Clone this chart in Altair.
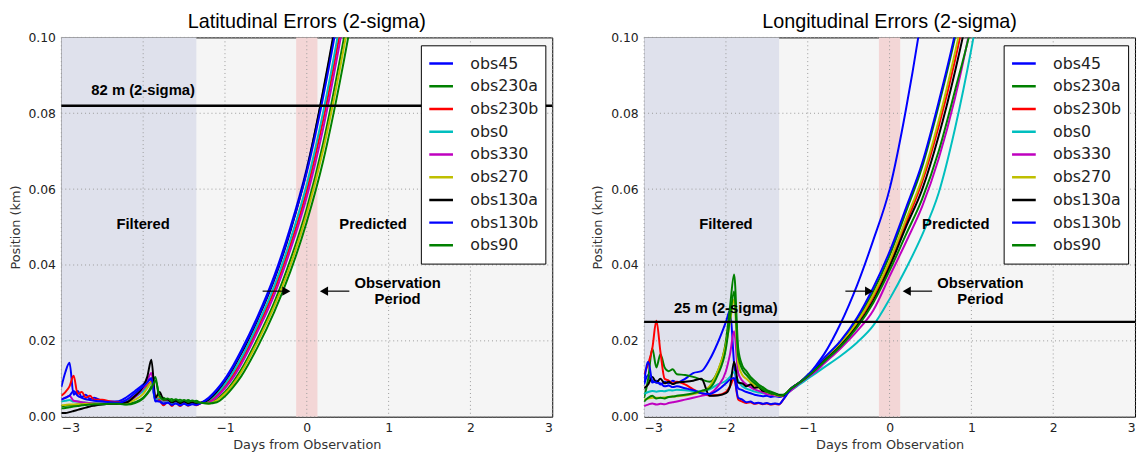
import altair as alt
import pandas as pd

SERIES = ["obs45", "obs230a", "obs230b", "obs0", "obs330", "obs270", "obs130a", "obs130b", "obs90"]
COLORS = ["#0000ff", "#008000", "#ff0000", "#00bfbf", "#bf00bf", "#bfbf00", "#000000", "#0000ff", "#008000"]

X_TICKS = [-3, -2, -1, 0, 1, 2, 3]
Y_TICKS = [0.0, 0.02, 0.04, 0.06, 0.08, 0.10]

X_FILT = [-3.0, -2.95, -2.9, -2.85, -2.8, -2.75, -2.7, -2.65, -2.6, -2.5, -2.4, -2.3, -2.2, -2.1,
          -2.0, -1.95, -1.9, -1.85, -1.8, -1.75, -1.7, -1.65, -1.6, -1.55, -1.5, -1.45, -1.4, -1.35, -1.3]
X_PRED = [-1.2, -1.1, -1.0, -0.9, -0.8, -0.6, -0.4, -0.2, 0.0, 0.2, 0.4, 0.6, 0.8, 1.0, 1.2]

# ---- Latitudinal errors (km) ----
LAT_OBS45 = [.0078, .0118, .0142, .0058, .0068, .0052, .0058, .0047, .0050, .0042, .0040, .0041, .0052, .0068, .0085, .0095, .0098, .0040, .0042, .0035, .0038, .0032, .0036, .0031, .0035, .0031, .0034, .0032, .0036,
             .005, .0072, .010, .0135, .0175, .0265, .037, .050, .0655, .0855, .109, .136, .166, .20, .24]
LAT_OBS230A = [.0028, .0029, .0030, .0031, .0032, .0033, .0033, .0034, .0034, .0034, .0034, .0034, .0033, .0038, .0050, .0062, .0080, .0105, .0048, .0050, .0042, .0047, .0040, .0045, .0039, .0044, .0038, .0042, .0037,
               .0035, .0046, .0065, .0092, .0125, .0207, .030, .0414, .0549, .0721, .0936, .118, .1465, .178, .214]
LAT_OBS230B = [.0055, .0065, .0080, .0108, .0060, .0065, .0050, .0055, .0045, .0045, .0040, .0038, .0042, .0055, .0072, .0082, .0092, .0048, .0043, .0030, .0040, .0028, .0038, .0028, .0036, .0029, .0036, .0030, .0035,
               .0040, .0057, .0080, .0110, .0147, .0234, .0332, .0453, .0596, .0782, .1006, .1262, .1555, .188, .225]
LAT_OBS0 = [.0040, .0042, .0044, .0040, .0040, .0038, .0037, .0036, .0036, .0035, .0035, .0036, .0040, .0052, .0068, .0078, .0088, .0045, .0050, .0040, .0042, .0036, .0040, .0035, .0038, .0034, .0037, .0034, .0036,
            .0043, .0061, .0086, .0118, .0155, .0243, .0343, .0467, .0613, .0803, .103, .129, .158, .19, .228]
LAT_OBS330 = [.0045, .0050, .0055, .0042, .0040, .0038, .0037, .0036, .0035, .0034, .0034, .0035, .0038, .0052, .0075, .0095, .0115, .0050, .0052, .0042, .0044, .0038, .0042, .0036, .0040, .0035, .0039, .0035, .0037,
              .0037, .0052, .0075, .0103, .0139, .0225, .032, .044, .058, .076, .0982, .1234, .1525, .185, .222]
LAT_OBS270 = [.0030, .0031, .0032, .0032, .0033, .0033, .0034, .0034, .0034, .0034, .0034, .0034, .0036, .0045, .0060, .0075, .0090, .0055, .0052, .0044, .0046, .0040, .0044, .0038, .0042, .0037, .0041, .0036, .0037,
              .0035, .0043, .0061, .0086, .0118, .0198, .029, .040, .0535, .0703, .0912, .1155, .1435, .175, .21]
LAT_OBS130A = [.0010, .0010, .0012, .0015, .0018, .0021, .0024, .0027, .0029, .0032, .0034, .0035, .0038, .0055, .0080, .0105, .0150, .0050, .0065, .0045, .0045, .0038, .0042, .0036, .0040, .0035, .0038, .0034, .0036,
               .0045, .0066, .0094, .0128, .0167, .0257, .036, .049, .065, .086, .110, .138, .168, .20, .24]
LAT_OBS130B = [.0045, .0050, .0055, .0068, .0055, .0050, .0046, .0044, .0042, .0040, .0038, .0037, .0045, .0062, .0080, .0090, .0102, .0042, .0040, .0034, .0037, .0031, .0035, .0030, .0034, .0030, .0033, .0031, .0035,
               .0048, .0070, .0097, .0131, .0171, .0260, .0363, .0493, .0645, .0843, .1077, .1346, .1645, .198, .236]
LAT_OBS90 = [.0022, .0023, .0025, .0027, .0028, .0030, .0031, .0032, .0033, .0033, .0034, .0034, .0032, .0036, .0048, .0060, .0075, .0095, .0055, .0045, .0048, .0041, .0046, .0040, .0044, .0039, .0043, .0038, .0037,
             .0035, .0038, .0054, .0078, .0107, .0184, .0275, .0383, .0514, .0674, .0878, .1116, .139, .17, .205]

# ---- Longitudinal errors (km) ----
LON_OBS45 = [.0085, .0110, .0090, .0095, .0085, .0092, .0088, .0095, .0090, .0100, .0115, .0120, .0150, .0195, .0250, .0280, .0140, .0075, .0070, .0065, .0062, .0058, .0056, .0054, .0055, .0052, .0054, .0052, .0055,
             .0075, .0090, .0108, .0135, .0165, .0245, .0345, .0465, .060, .081, .107, .14, .18, .22, .27]
LON_OBS230A = [.0050, .0100, .0180, .0130, .0165, .0130, .0120, .0125, .0112, .0110, .0105, .0098, .0092, .0120, .0200, .0290, .0375, .0180, .0135, .0120, .0105, .0095, .0085, .0078, .0070, .0066, .0062, .0058, .0058,
               .0075, .009, .011, .013, .0152, .0195, .0253, .033, .0425, .054, .066, .082, .100, .122, .148]
LON_OBS230B = [.0111, .0140, .0180, .0253, .0170, .0100, .0095, .0088, .0092, .0085, .0072, .0062, .0056, .0057, .0065, .0080, .0100, .0045, .0040, .0036, .0038, .0034, .0036, .0033, .0035, .0032, .0034, .0032, .0045,
               .0075, .009, .0108, .0128, .0149, .019, .0245, .0315, .0405, .051, .062, .0765, .094, .115, .14]
LON_OBS0 = [.0060, .0065, .0068, .0066, .0068, .0067, .0070, .0069, .0071, .0070, .0068, .0066, .0072, .0085, .0095, .0105, .0118, .0095, .0080, .0074, .0070, .0066, .0064, .0062, .0060, .0058, .0056, .0055, .0056,
            .007, .0085, .010, .0115, .013, .016, .0195, .024, .031, .039, .048, .059, .076, .097, .122]
LON_OBS330 = [.0028, .0032, .0035, .0032, .0034, .0033, .0036, .0038, .0040, .0045, .0050, .0055, .0060, .0080, .0120, .0165, .0225, .0115, .0095, .0085, .0078, .0072, .0068, .0064, .0060, .0058, .0056, .0054, .0055,
              .007, .0088, .0104, .012, .014, .018, .0225, .028, .037, .046, .0555, .068, .084, .104, .127]
LON_OBS270 = [.0045, .0048, .0050, .0050, .0050, .0051, .0052, .0053, .0054, .0056, .0060, .0065, .0080, .0120, .0190, .0250, .0310, .0140, .0110, .0100, .0090, .0082, .0076, .0070, .0065, .0061, .0058, .0055, .0056,
              .0075, .009, .0108, .0128, .015, .0192, .0248, .032, .041, .052, .063, .078, .096, .117, .142]
LON_OBS130A = [.0075, .0085, .0105, .0090, .0100, .0088, .0092, .0086, .0090, .0092, .0095, .0100, .0055, .0056, .0062, .0080, .0145, .0090, .0088, .0080, .0085, .0076, .0078, .0068, .0066, .0062, .0060, .0057, .0056,
               .0075, .009, .0107, .0126, .0147, .0187, .0238, .0305, .0395, .050, .060, .074, .091, .111, .135]
LON_OBS130B = [.0090, .0145, .0095, .0090, .0088, .0080, .0082, .0078, .0080, .0075, .0070, .0062, .0060, .0070, .0088, .0098, .0102, .0050, .0045, .0038, .0040, .0035, .0037, .0034, .0036, .0033, .0035, .0033, .0045,
               .0075, .009, .011, .0132, .0155, .020, .026, .034, .0435, .055, .067, .083, .101, .123, .15]
LON_OBS90 = [.0040, .0050, .0055, .0048, .0050, .0048, .0052, .0053, .0055, .0058, .0062, .0068, .0075, .0110, .0180, .0260, .0330, .0160, .0125, .0110, .0098, .0088, .0080, .0072, .0066, .0062, .0060, .0056, .0057,
             .0075, .009, .0106, .0125, .0145, .0185, .0235, .030, .0385, .048, .0575, .070, .086, .103, .125]

LAT_LISTS = [LAT_OBS45, LAT_OBS230A, LAT_OBS230B, LAT_OBS0, LAT_OBS330, LAT_OBS270, LAT_OBS130A, LAT_OBS130B, LAT_OBS90]
LON_LISTS = [LON_OBS45, LON_OBS230A, LON_OBS230B, LON_OBS0, LON_OBS330, LON_OBS270, LON_OBS130A, LON_OBS130B, LON_OBS90]

LAT_LEVEL = 0.082
LON_LEVEL = 0.025
FILTER_END = -1.35
OBS_START, OBS_END = -0.13, 0.13

W, H = 497, 384
SANS = "DejaVu Sans"
ARIAL = "Liberation Sans"


def long_df(lists):
    xs = X_FILT + X_PRED
    rows = []
    for k, (name, vals) in enumerate(zip(SERIES, lists)):
        assert len(vals) == len(xs), (name, len(vals))
        for i, (x, v) in enumerate(zip(xs, vals)):
            rows.append({"day": x, "value": v, "series": name, "k": k, "i": i})
    return pd.DataFrame(rows)


def xenc(field="day"):
    return alt.X(f"{field}:Q",
                 scale=alt.Scale(domain=[-3, 3], nice=False, zero=False),
                 axis=alt.Axis(values=X_TICKS, format="d", title="Days from Observation",
                               grid=False, ticks=False, domain=False, labelPadding=5, titlePadding=5,
                               labelFont=SANS, labelFontSize=12.5, labelColor="#222",
                               titleFont=SANS, titleFontSize=13, titleFontWeight="normal", titleColor="#333"))


def yenc(field="value"):
    return alt.Y(f"{field}:Q",
                 scale=alt.Scale(domain=[0, 0.1], nice=False, zero=False),
                 axis=alt.Axis(values=Y_TICKS, format=".2f", title="Position (km)",
                               grid=False, ticks=False, domain=False, labelPadding=6, titlePadding=6,
                               labelFont=SANS, labelFontSize=12.5, labelColor="#222",
                               titleFont=SANS, titleFontSize=13, titleFontWeight="normal", titleColor="#333"))


def panel(title, lists, level, level_text, level_text_y):
    df = long_df(lists)

    bands = pd.DataFrame({"day": [-3.0, OBS_START], "day2": [FILTER_END, OBS_END],
                          "kind": ["filtered", "obs"]})
    band = alt.Chart(bands).mark_rect().encode(
        x=xenc(), x2="day2:Q",
        color=alt.Color("kind:N", scale=alt.Scale(domain=["filtered", "obs"], range=["#dfe1ec", "#f3d6d6"]), legend=None),
    )

    vgrid = alt.Chart(pd.DataFrame({"day": X_TICKS})).mark_rule(
        color="#9a9a9a", strokeDash=[1, 3], strokeWidth=1).encode(x=xenc())
    hgrid = alt.Chart(pd.DataFrame({"value": Y_TICKS})).mark_rule(
        color="#9a9a9a", strokeDash=[1, 3], strokeWidth=1).encode(y=yenc())

    lines = alt.Chart(df).mark_line(clip=True, strokeWidth=2, interpolate="monotone").encode(
        x=xenc(), y=yenc(),
        color=alt.Color("series:N", sort=SERIES,
                        scale=alt.Scale(domain=SERIES, range=COLORS),
                        legend=alt.Legend(orient="none", legendX=364, legendY=8, title=None,
                                          fillColor="white", strokeColor="black", padding=7,
                                          symbolType="stroke", symbolSize=576, symbolStrokeWidth=2.5,
                                          labelFont=SANS, labelFontSize=16, labelColor="#222",
                                          labelOffset=16, clipHeight=23, rowPadding=0, cornerRadius=0)),
        order=alt.Order("i:Q"),
    )

    lvl = alt.Chart(pd.DataFrame({"value": [level]})).mark_rule(color="black", strokeWidth=2.5).encode(y=yenc())

    notes = pd.DataFrame({
        "text": [level_text, "Filtered", "Predicted", "Observation", "Period"],
        "day": [-2.0, -2.0, 0.81, 1.11, 1.11],
        "value": [level_text_y, 0.0509, 0.0509, 0.0352, 0.0310],
    })
    txt = alt.Chart(notes).mark_text(font=ARIAL, fontWeight="bold", fontSize=15, color="black").encode(
        x=xenc(), y=yenc(), text="text:N")

    arrows = pd.DataFrame({"day": [-0.54, 0.52], "day2": [-0.25, 0.21], "value": [0.0331, 0.0331]})
    shafts = alt.Chart(arrows).mark_rule(color="black", strokeWidth=1.2).encode(x=xenc(), x2="day2:Q", y=yenc())
    heads = pd.DataFrame({"day": [-0.25, 0.21], "value": [0.0331, 0.0331], "dir": ["r", "l"]})
    head_marks = alt.Chart(heads).mark_point(filled=True, size=90, opacity=1, color="black").encode(
        x=xenc(), y=yenc(),
        shape=alt.Shape("dir:N", scale=alt.Scale(domain=["r", "l"], range=["triangle-right", "triangle-left"]), legend=None),
    )

    return alt.layer(band, vgrid, hgrid, lines, lvl, txt, shafts, head_marks).resolve_scale(
        color="independent", shape="independent"
    ).properties(
        width=W, height=H,
        title=alt.Title(title, font=ARIAL, fontSize=20, fontWeight="normal", color="black", offset=0),
    )


left = panel("Latitudinal Errors (2-sigma)", LAT_LISTS, LAT_LEVEL, "82 m (2-sigma)", 0.086)
right = panel("Longitudinal Errors (2-sigma)", LON_LISTS, LON_LEVEL, "25 m (2-sigma)", 0.0286)

chart = alt.hconcat(left, right, spacing=37).resolve_scale(color="independent", shape="independent").resolve_legend(
    color="independent").properties(
    padding={"left": 0, "top": 0, "right": 0, "bottom": 0}
).configure_view(fill="#f5f5f5", stroke="black", strokeWidth=1)

chart.save("out.html", embed_options={"renderer": "svg", "actions": False})
